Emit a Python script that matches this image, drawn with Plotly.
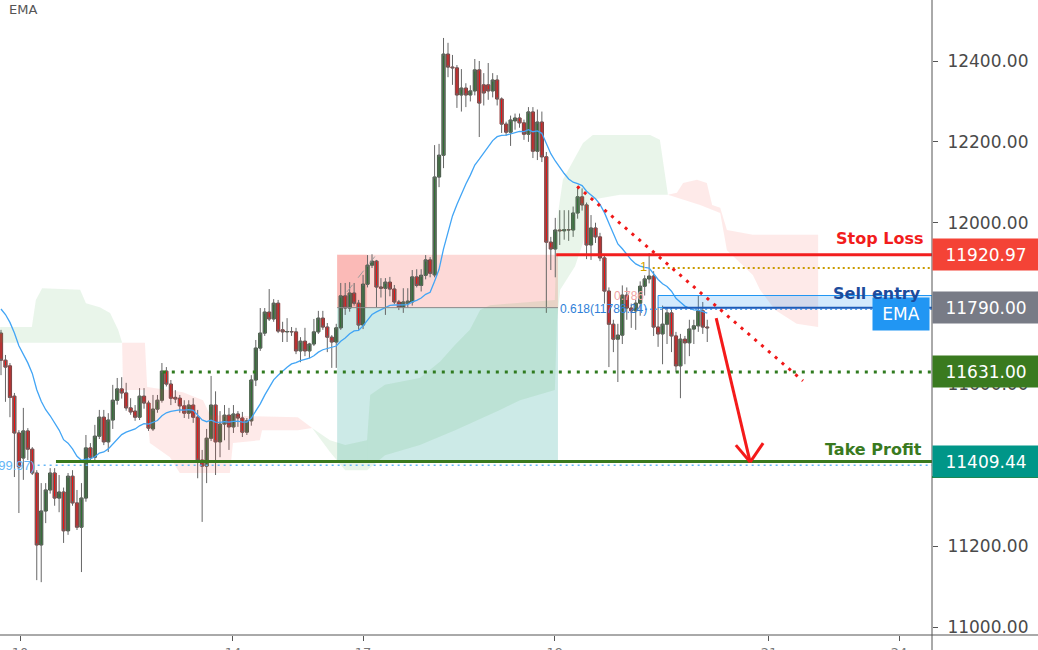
import plotly.graph_objects as go

# ---------------- data ----------------
opens = [11727, 11660, 11646, 11571, 11480, 11418, 11485, 11440, 11381, 11203,
         11287, 11339, 11381, 11319, 11334, 11238, 11373, 11307, 11247, 11319,
         11443, 11420, 11472, 11519, 11458, 11512, 11561, 11589, 11579, 11542,
         11534, 11519, 11571, 11554, 11490, 11539, 11561, 11633, 11601, 11568,
         11566, 11547, 11529, 11549, 11519, 11413, 11398, 11467, 11549, 11458,
         11502, 11524, 11495, 11527, 11517, 11482, 11510, 11611, 11690, 11727,
         11779, 11762, 11801, 11735, 11730, 11731, 11730, 11683, 11707, 11683,
         11700, 11730, 11764, 11742, 11717, 11705, 11740, 11819, 11789, 11826,
         11801, 11747, 11848, 11895, 11905, 11841, 11838, 11853, 11836, 11804,
         11791, 11801, 11804, 11866, 11845, 11870, 11908, 11871, 12113, 12167,
         12417, 12385, 12383, 12316, 12333, 12316, 12326, 12378, 12341, 12341,
         12326, 12353, 12306, 12244, 12224, 12252, 12259, 12247, 12219, 12274,
         12177, 12249, 12163, 11952, 11935, 11982, 11980, 11983, 11982, 12024,
         12064, 12044, 11945, 11987, 11965, 11913, 11831, 11749, 11712, 11722,
         11821, 11789, 11782, 11801, 11843, 11861, 11868, 11742, 11725, 11749,
         11777, 11720, 11646, 11712, 11703, 11737, 11745, 11782, 11742]
highs = [11735, 11673, 11653, 11579, 11487, 11542, 11492, 11445, 11388, 11356,
         11356, 11393, 11393, 11376, 11345, 11381, 11388, 11339, 11356, 11475,
         11455, 11500, 11537, 11537, 11529, 11599, 11616, 11618, 11604, 11566,
         11549, 11591, 11591, 11560, 11574, 11574, 11653, 11643, 11611, 11586,
         11574, 11561, 11561, 11566, 11537, 11438, 11490, 11621, 11583, 11534,
         11549, 11542, 11549, 11534, 11532, 11517, 11623, 11710, 11789, 11789,
         11836, 11811, 11809, 11755, 11764, 11742, 11740, 11717, 11740, 11703,
         11762, 11782, 11782, 11752, 11722, 11750, 11851, 11851, 11853, 11851,
         11809, 11871, 11920, 11922, 11908, 11863, 11863, 11866, 11846, 11809,
         11838, 11838, 11883, 11885, 11885, 11920, 11915, 12192, 12195, 12457,
         12445, 12415, 12390, 12380, 12345, 12340, 12405, 12400, 12370, 12395,
         12370, 12365, 12310, 12250, 12265, 12270, 12270, 12255, 12286, 12286,
         12280, 12275, 12175, 11965, 12012, 12031, 12031, 12031, 12040, 12090,
         12085, 12050, 12019, 12000, 11975, 11920, 11840, 11760, 11750, 11845,
         11840, 11800, 11810, 11855, 11870, 11925, 11880, 11791, 11795, 11790,
         11790, 11730, 11725, 11720, 11760, 11760, 11821, 11804, 11760]
lows = [11623, 11557, 11519, 11371, 11282, 11364, 11413, 11376, 11116, 11111,
        11257, 11330, 11300, 11284, 11208, 11228, 11300, 11240, 11136, 11310,
        11412, 11410, 11465, 11450, 11433, 11490, 11550, 11565, 11535, 11525,
        11510, 11512, 11540, 11485, 11485, 11530, 11555, 11595, 11549, 11554,
        11530, 11517, 11515, 11505, 11368, 11260, 11356, 11460, 11376, 11420,
        11462, 11438, 11480, 11495, 11470, 11475, 11498, 11596, 11683, 11720,
        11757, 11755, 11727, 11705, 11705, 11720, 11675, 11655, 11670, 11665,
        11695, 11725, 11735, 11680, 11641, 11641, 11735, 11772, 11780, 11795,
        11735, 11737, 11840, 11888, 11791, 11815, 11772, 11818, 11799, 11784,
        11777, 11790, 11795, 11840, 11830, 11860, 11865, 11865, 12088, 12135,
        12360, 12341, 12284, 12275, 12286, 12300, 12315, 12212, 12290, 12304,
        12310, 12290, 12222, 12215, 12190, 12230, 12235, 12205, 12200, 12160,
        12155, 12150, 11777, 11883, 11865, 11945, 11958, 11955, 11965, 12010,
        12030, 11910, 11908, 11950, 11905, 11800, 11643, 11680, 11606, 11700,
        11760, 11740, 11735, 11770, 11820, 11850, 11720, 11693, 11650, 11700,
        11680, 11630, 11566, 11650, 11670, 11700, 11730, 11725, 11705]
closes = [11660, 11643, 11568, 11480, 11396, 11485, 11440, 11381, 11203, 11287,
          11339, 11381, 11319, 11334, 11238, 11373, 11307, 11247, 11319, 11443,
          11420, 11472, 11519, 11458, 11512, 11561, 11589, 11579, 11542, 11532,
          11519, 11571, 11554, 11492, 11539, 11561, 11633, 11601, 11566, 11564,
          11547, 11529, 11549, 11519, 11413, 11398, 11467, 11549, 11458, 11502,
          11524, 11495, 11527, 11517, 11482, 11510, 11611, 11690, 11727, 11779,
          11762, 11801, 11732, 11730, 11731, 11730, 11683, 11707, 11683, 11700,
          11730, 11764, 11742, 11717, 11705, 11740, 11819, 11789, 11826, 11801,
          11747, 11848, 11895, 11905, 11841, 11838, 11853, 11836, 11804, 11791,
          11804, 11806, 11866, 11845, 11870, 11908, 11875, 12113, 12167, 12417,
          12385, 12383, 12316, 12333, 12316, 12326, 12378, 12296, 12321, 12326,
          12353, 12306, 12244, 12224, 12254, 12259, 12247, 12219, 12274, 12177,
          12249, 12163, 11952, 11935, 11982, 11980, 11983, 11982, 12024, 12064,
          12044, 11945, 11987, 11965, 11913, 11831, 11749, 11712, 11722, 11821,
          11789, 11782, 11801, 11843, 11861, 11868, 11742, 11725, 11749, 11777,
          11720, 11646, 11712, 11703, 11737, 11745, 11782, 11742, 11740]

ema_period = 20
ema_start = 11800

# Ichimoku cloud boundaries (bar index, price)
g1_x = [-0.2, 6.9, 7.8, 9.2, 17.7, 19.0, 22.1, 24.4, 26.2, 27.1]
g1_top = [11742, 11742, 11809, 11838, 11834, 11801, 11791, 11777, 11735, 11703]
g1_bot = [11703] * len(g1_x)

r1_top_x = [27.1, 32.2, 32.7, 40.7, 45.2, 46.8, 66.4, 69.6]
r1_top = [11703, 11703, 11594, 11581, 11561, 11524, 11519, 11492]
r1_bot_x = [27.1, 27.3, 32.2, 33.3, 37.8, 40.0, 51.2, 51.9, 57.9, 58.4, 66.4, 69.6]
r1_bot = [11703, 11586, 11586, 11455, 11420, 11381, 11381, 11455, 11462, 11487, 11487, 11492]

g2_x = [69.6, 73.6, 77.0, 81.9]
g2_top = [11492, 11462, 11450, 11462]
g2_bot = [11492, 11433, 11388, 11388]

g3_top_x = [81.9, 82.6, 85.9, 93.7, 98.2, 101.6, 104.9, 107.2, 109.4, 123.9, 124.4,
            125.7, 130.2, 132.4, 145.2, 147.4, 149.2]
g3_top = [11462, 11574, 11599, 11616, 11656, 11698, 11735, 11784, 11796, 11809, 12007,
          12106, 12197, 12217, 12217, 12205, 12069]
g3_bot_x = [81.9, 85.9, 93.7, 101.6, 111.6, 116.1, 123.9, 124.4, 125.1, 128.4, 130.2,
            131.8, 138.5, 149.2]
g3_bot = [11388, 11425, 11450, 11487, 11537, 11561, 11586, 11759, 11834, 11892, 11950,
          12056, 12069, 12069]

r2_top_x = [149.2, 151.2, 152.6, 155.7, 157.9, 159.1, 160.9, 162.4, 168.2, 182.8]
r2_top = [12069, 12074, 12098, 12106, 12098, 12044, 12037, 11982, 11970, 11970]
r2_bot_x = [149.2, 156.4, 160.9, 162.4, 168.2, 169.8, 173.2, 178.0, 182.8]
r2_bot = [12069, 12044, 12024, 11932, 11871, 11834, 11784, 11750, 11742]

# trade levels
stop_loss = 11920.97
sell_entry = 11790.00
support = 11631.00
take_profit = 11409.44
fib_1 = 11888
fib_0618 = 11786.24
fib_0 = 11399.97
sell_zone_top = 11820

y_ticks = [11000, 11200, 11400, 11600, 11800, 12000, 12200, 12400]
x_tick_pos = [4.25, 51.9, 81.0, 123.9, 171.8, 200.9]
x_tick_text = ["10", "14", "17", "19", "21", "24"]

# ---------------- figure ----------------
alpha = 2 / (ema_period + 1)
ema, e = [], ema_start
for c in closes:
    e = e + alpha * (c - e)
    ema.append(e)

idx = list(range(len(opens)))
fig = go.Figure()

GREEN_CLOUD = "rgba(76,175,80,0.12)"
RED_CLOUD = "rgba(244,67,54,0.11)"
XMAX = 208.28


def cloud(xt, top, xb, bot, color):
    fig.add_trace(go.Scatter(x=list(xt) + list(xb)[::-1], y=list(top) + list(bot)[::-1],
                             fill="toself", fillcolor=color, mode="lines",
                             line=dict(width=0), hoverinfo="skip", showlegend=False))


cloud(g1_x, g1_top, g1_x, g1_bot, GREEN_CLOUD)
cloud(r1_top_x, r1_top, r1_bot_x, r1_bot, RED_CLOUD)
cloud(g2_x, g2_top, g2_x, g2_bot, GREEN_CLOUD)
cloud(g3_top_x, g3_top, g3_bot_x, g3_bot, GREEN_CLOUD)
cloud(r2_top_x, r2_top, r2_bot_x, r2_bot, RED_CLOUD)

fig.add_trace(go.Scatter(x=idx, y=ema, mode="lines", line=dict(color="#42a5f5", width=1.3),
                         hoverinfo="skip", showlegend=False))

# candles: gray wicks from the candlestick trace, coloured bodies drawn on top
fig.add_trace(go.Candlestick(
    x=idx, open=opens, high=highs, low=lows, close=closes,
    increasing=dict(line=dict(color="#666666", width=1), fillcolor="#2e7031"),
    decreasing=dict(line=dict(color="#666666", width=1), fillcolor="#f01010"),
    whiskerwidth=0, hoverinfo="skip", showlegend=False))

up = [c >= o for o, c in zip(opens, closes)]
fig.add_trace(go.Bar(
    x=idx, base=[min(o, c) for o, c in zip(opens, closes)],
    y=[abs(c - o) for o, c in zip(opens, closes)], width=0.72,
    marker=dict(color=["#2b6e2e" if u else "#f20f0f" for u in up],
                line=dict(color=["#173d18" if u else "#7a0a0a" for u in up], width=0.8)),
    hoverinfo="skip", showlegend=False))

XR = 1038 / 932  # paper x of figure right edge
shapes = []


def hline(y, x0, color, width, dash="solid"):
    shapes.append(dict(type="line", xref="x", yref="y", x0=x0, x1=XMAX, y0=y, y1=y,
                       line=dict(color=color, width=width, dash=dash), layer="above"))


# position tool boxes
shapes.append(dict(type="rect", xref="x", yref="y", x0=75.2, x1=124.6, y0=sell_entry, y1=stop_loss,
                   fillcolor="rgba(244,67,54,0.2)", line=dict(width=0), layer="below"))
shapes.append(dict(type="rect", xref="x", yref="y", x0=75.2, x1=81.9, y0=sell_entry, y1=stop_loss,
                   fillcolor="rgba(244,67,54,0.2)", line=dict(width=0), layer="below"))
shapes.append(dict(type="rect", xref="x", yref="y", x0=75.2, x1=124.6, y0=take_profit, y1=sell_entry,
                   fillcolor="rgba(0,150,136,0.2)", line=dict(width=0), layer="below"))
shapes.append(dict(type="line", xref="x", yref="y", x0=75.2, x1=124.6, y0=sell_entry, y1=sell_entry,
                   line=dict(color="#8a8a8a", width=1), layer="above"))
shapes.append(dict(type="line", xref="x", yref="y", x0=77.4, x1=84.1, y0=11829, y1=11923,
                   line=dict(color="#9a9a9a", width=1, dash="dash"), layer="above"))

# sell entry zone
shapes.append(dict(type="rect", xref="x", yref="y", x0=147.0, x1=XMAX, y0=sell_entry, y1=sell_zone_top,
                   fillcolor="rgba(33,150,243,0.2)", line=dict(color="#2196f3", width=1), layer="above"))

# fib dotted levels
hline(fib_0, 8.2, "#64b5f6", 1.5, "2px,4px")
hline(fib_0618, 144.1, "#5aa6f0", 1.5, "2px,3px")
hline(fib_1, 145.8, "#c99a00", 2, "2px,3px")

# trade lines
hline(support, 36.2, "#2f7a1f", 3, "3px,6px")
hline(take_profit, 12.3, "#3a7a1f", 3)
hline(stop_loss, 124.2, "#f21e1e", 3)
hline(sell_entry, 148.1, "#1e5bb8", 2)

# red dotted trend line
shapes.append(dict(type="line", xref="x", yref="y", x0=128.9, y0=12090, x1=179.4, y1=11609,
                   line=dict(color="#f01818", width=3, dash="3px,6px"), layer="above"))
# red arrow
for (ax0, ay0) in [(160.0, 11764), (164.4, 11450), (170.5, 11455)]:
    shapes.append(dict(type="line", xref="x", yref="y", x0=ax0, y0=ay0, x1=167.6, y1=11408,
                       line=dict(color="#f41a1a", width=3), layer="above"))

# axes frame lines
shapes.append(dict(type="line", xref="paper", yref="paper", x0=0, x1=XR, y0=0, y1=0,
                   line=dict(color="#555555", width=1)))
shapes.append(dict(type="line", xref="paper", yref="paper", x0=1, x1=1, y0=-15 / 635, y1=1,
                   line=dict(color="#555555", width=1)))
# green edge under take-profit price label
shapes.append(dict(type="line", xref="paper", yref="y", x0=1, x1=XR, y0=11371, y1=11371,
                   line=dict(color="#3a7a1f", width=2)))

ann = []


def price_box(y, text, color):
    ann.append(dict(xref="paper", yref="y", x=1, y=y, xanchor="left", yanchor="middle",
                    text=text, showarrow=False, bgcolor=color, width=106, height=31,
                    borderpad=0, align="center",
                    font=dict(color="white", size=17, family="DejaVu Sans")))


price_box(stop_loss, f"{stop_loss:.2f}", "#f44336")
price_box(sell_entry, f"{sell_entry:.2f}", "#787b86")
price_box(support, f"{support:.2f}", "#3a7a1f")
price_box(take_profit, f"{take_profit:.2f}", "#009688")

ann.append(dict(xref="paper", yref="y", x=1, y=11774, xanchor="right", yanchor="middle", xshift=-2,
                text="EMA", showarrow=False, bgcolor="#2196f3", width=56, height=32, borderpad=0,
                font=dict(color="white", size=17, family="DejaVu Sans")))


def label(text, y, yshift, xshift, color):
    ann.append(dict(xref="paper", yref="y", x=1, y=y, xanchor="right", yanchor="middle",
                    xshift=xshift, yshift=yshift, text=f"<b>{text}</b>", showarrow=False,
                    font=dict(color=color, size=16, family="DejaVu Sans")))


label("Stop Loss", stop_loss, 16, -7, "#f21c1c")
label("Sell entry", sell_entry, 14.5, -9, "#1c4c9c")
label("Take Profit", take_profit, 12.5, -8, "#3a7a1f")

ann.append(dict(xref="x", yref="y", x=124.6, y=fib_0618, xanchor="left", yanchor="middle",
                text=f"0.618({fib_0618:.2f})", showarrow=False,
                font=dict(color="#2f7fd8", size=12, family="Liberation Sans")))
ann.append(dict(xref="x", yref="y", x=136.7, y=11819, xanchor="left", yanchor="middle",
                text="0.786", showarrow=False,
                font=dict(color="#f2a4a4", size=12, family="Liberation Sans")))
ann.append(dict(xref="x", yref="y", x=145.0, y=fib_1, xanchor="right", yanchor="middle", yshift=2,
                text="1", showarrow=False,
                font=dict(color="#d4a300", size=13, family="Liberation Sans")))
ann.append(dict(xref="x", yref="y", x=8.0, y=fib_0, xanchor="right", yanchor="middle",
                text=f"0({fib_0:.2f})", showarrow=False,
                font=dict(color="#64b5f6", size=13, family="Liberation Sans")))
ann.append(dict(xref="paper", yref="paper", x=0, y=1, xanchor="left", yanchor="top", xshift=7, yshift=0,
                text="EMA", showarrow=False, font=dict(color="#555555", size=13, family="DejaVu Sans")))

fig.update_layout(
    width=1038, height=650, margin=dict(l=0, r=106, t=0, b=15, autoexpand=False),
    plot_bgcolor="white", paper_bgcolor="white", showlegend=False, barmode="overlay",
    shapes=shapes, annotations=ann,
    xaxis=dict(range=[-0.224, XMAX], showgrid=False, zeroline=False, showline=False,
               automargin=False,
               rangeslider=dict(visible=False), ticks="outside", ticklen=5, tickcolor="#555555",
               tickvals=x_tick_pos, ticktext=x_tick_text,
               tickfont=dict(size=13, color="#777777", family="DejaVu Sans"), fixedrange=True),
    yaxis=dict(side="right", range=[10980.3, 12550.9], showgrid=False, zeroline=False,
               automargin=False,
               showline=False, ticks="outside", ticklen=5, tickcolor="#555555",
               tickvals=y_ticks, ticktext=[f"{v:.2f}" for v in y_ticks],
               tickfont=dict(size=17, color="#4a4a4a", family="DejaVu Sans"),
               ticklabelstandoff=6),
)

fig.write_html("out.html", config={"displayModeBar": False},
               post_script="document.body.style.margin='0';document.body.style.overflow='hidden';")
